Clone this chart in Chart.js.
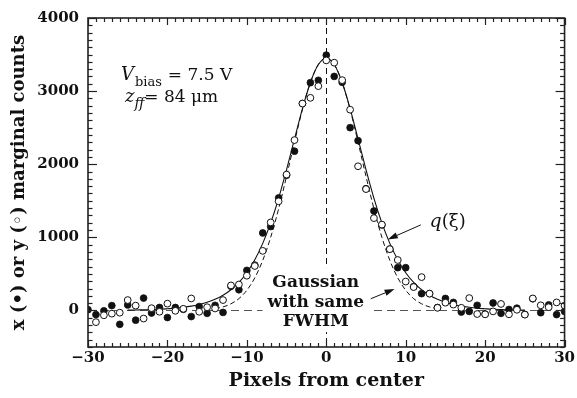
<!DOCTYPE html>
<html><head><meta charset="utf-8">
<script src="https://cdn.jsdelivr.net/npm/chart.js@4.4.1/dist/chart.umd.min.js"></script>
<style>html,body{margin:0;padding:0;background:#fff}canvas{display:block}</style>
</head><body>
<canvas id="c" width="577" height="398"></canvas>
<script>
// ---- data ----
const pixelOffsets = [-30,-29,-28,-27,-26,-25,-24,-23,-22,-21,-20,-19,-18,-17,-16,-15,-14,-13,-12,-11,-10,-9,-8,-7,-6,-5,-4,-3,-2,-1,0,1,2,3,4,5,6,7,8,9,10,11,12,13,14,15,16,17,18,19,20,21,22,23,24,25,26,27,28,29,30];
// x marginal (filled circles)
const xMarginal = [10,-57,-5,66,-190,75,-133,169,-35,40,-97,40,15,-84,53,-40,70,-27,330,283,548,620,1060,1148,1539,1850,2178,2830,3115,3148,3492,3201,3120,2500,2322,1665,1360,1170,840,585,585,325,230,230,40,164,110,-22,-13,70,-50,102,-40,13,31,-55,160,-31,75,-57,-13];
// y marginal (open circles)
const yMarginal = [null,-160,-66,-44,-31,142,66,-111,31,-18,93,-5,22,164,-18,44,27,142,342,355,475,608,815,1204,1493,1858,2330,2830,2908,3068,3420,3389,3150,2746,1972,1660,1263,1174,838,690,395,320,456,230,36,106,80,36,169,-49,-53,-13,89,-53,9,-57,164,70,44,110,66];
// q(xi) curve (solid)
const curveX = [-25,-24,-23,-22,-21,-20,-19,-18,-17,-16,-15,-14,-13,-12,-11,-10,-9,-8,-7,-6,-5,-4,-3,-2,-1,0,1,2,3,4,5,6,7,8,9,10,11,12,13,14,15,16,17,18,19,20,21,22,23,24,25];
const qCurve = [5,6,9,12,16,23,31,43,59,82,111,152,207,283,383,516,692,917,1197,1534,1925,2346,2761,3118,3363,3450,3363,3118,2761,2346,1925,1534,1197,917,692,516,383,283,207,152,111,82,59,43,31,23,16,12,9,6,5];
// Gaussian with same FWHM (dashed)
const gaussX = [-14,-13,-12,-11,-10,-9,-8,-7,-6,-5,-4,-3,-2,-1,0,1,2,3,4,5,6,7,8,9,10,11,12,13,14];
const gaussCurve = [24,48,91,162,276,446,685,1001,1390,1835,2303,2749,3119,3364,3450,3364,3119,2749,2303,1835,1390,1001,685,446,276,162,91,48,24];
const xTickValues = [-30,-20,-10,0,10,20,30];
const yTickValues = [0,1000,2000,3000,4000];

// ---- styling / annotation settings ----
const FONT = "'DejaVu Serif', serif";
const INK = '#111';
const xMinorStep = 1, yMinorStep = 100;
const vbiasPos = {x:-25.85, y:3156};
const zffPos = {x:-25.35, y:2846};
const qLabelPos = {x:13.0, y:1144};
const qArrow = {from:{x:11.9, y:1170}, to:{x:7.74, y:971}};
const gaussLabelPos = {x:-1.32, y:319};
const gaussLines = ['Gaussian','with same','FWHM'];
const gaussArrow = {from:{x:5.6, y:160}, to:{x:8.6, y:293}};

const pts = (xs, ys) => xs.map((v,i)=>({x:v, y:ys[i]}));
const fmt = v => v < 0 ? '\u2212' + Math.abs(v) : String(v);

function arrow(ctx, x1, y1, x2, y2){
  const ang = Math.atan2(y2-y1, x2-x1), L = 10, W = 3.2;
  const bx = x2 - L*Math.cos(ang), by = y2 - L*Math.sin(ang);
  ctx.beginPath(); ctx.moveTo(x1,y1); ctx.lineTo(bx,by); ctx.stroke();
  ctx.beginPath();
  ctx.moveTo(x2,y2);
  ctx.lineTo(bx + W*Math.sin(ang), by - W*Math.cos(ang));
  ctx.lineTo(bx - W*Math.sin(ang), by + W*Math.cos(ang));
  ctx.closePath(); ctx.fill();
}
function put(ctx, s, x, y, font){ ctx.font = font; ctx.fillText(s, x, y); return ctx.measureText(s).width; }

const decor = {
  id:'decor',
  beforeDatasetsDraw(chart){
    const {ctx, chartArea:a, scales:{x,y}} = chart;
    ctx.save();
    ctx.beginPath(); ctx.rect(a.left,a.top,a.right-a.left,a.bottom-a.top); ctx.clip();
    const y0 = Math.round(y.getPixelForValue(0)) + 0.5;
    ctx.strokeStyle = '#555'; ctx.lineWidth = 1; ctx.setLineDash([8,5]);
    ctx.beginPath(); ctx.moveTo(a.left,y0); ctx.lineTo(a.right,y0); ctx.stroke();
    const x0 = Math.round(x.getPixelForValue(0)) + 0.5;
    ctx.strokeStyle = INK; ctx.setLineDash([6,4]);
    ctx.beginPath(); ctx.moveTo(x0,a.top); ctx.lineTo(x0,a.bottom); ctx.stroke();
    ctx.restore();
  },
  afterDatasetsDraw(chart){
    const {ctx, scales:{x,y}} = chart;
    const X = v => x.getPixelForValue(v), Y = v => y.getPixelForValue(v);
    ctx.save();
    ctx.fillStyle = INK; ctx.strokeStyle = INK; ctx.textBaseline = 'alphabetic'; ctx.textAlign = 'left';
    // V_bias line
    let px = X(vbiasPos.x), py = Y(vbiasPos.y);
    px += put(ctx,'V',px,py,'italic 18px '+FONT);
    px += put(ctx,'bias',px+1,py+6,'13px '+FONT) + 3;
    put(ctx,'= 7.5 V',px+4,py,'17px '+FONT);
    // z_ff line
    px = X(zffPos.x); py = Y(zffPos.y);
    px += put(ctx,'z',px,py,'italic 18px '+FONT);
    px += put(ctx,'ff',px,py+6,'italic 14px '+FONT);
    put(ctx,'= 84 \u03BCm',px,py,'17px '+FONT);
    // q(xi) label
    px = X(qLabelPos.x); py = Y(qLabelPos.y);
    px += put(ctx,'q',px,py,'italic 19px '+FONT);
    put(ctx,'(\u03BE)',px,py,'18px '+FONT);
    ctx.lineWidth = 1;
    arrow(ctx, X(qArrow.from.x), Y(qArrow.from.y), X(qArrow.to.x), Y(qArrow.to.y));
    // Gaussian label with white box
    ctx.font = 'bold 17px '+FONT;
    const cx = X(gaussLabelPos.x), by = Y(gaussLabelPos.y), lh = 19.5;
    const w = Math.max(...gaussLines.map(s=>ctx.measureText(s).width));
    ctx.fillStyle = '#fff';
    ctx.fillRect(cx - w/2 - 5, by - 19, w + 10, lh*2 + 25);
    ctx.fillStyle = INK; ctx.textAlign = 'center';
    gaussLines.forEach((s,i)=>ctx.fillText(s, cx, by + i*lh));
    arrow(ctx, X(gaussArrow.from.x), Y(gaussArrow.from.y), X(gaussArrow.to.x), Y(gaussArrow.to.y));
    ctx.restore();
  },
  afterDraw(chart){
    const {ctx, chartArea:a, scales:{x,y}} = chart;
    ctx.save();
    ctx.strokeStyle = '#222'; ctx.setLineDash([]);
    ctx.lineWidth = 1.2;
    const line = (x1,y1,x2,y2)=>{ctx.beginPath();ctx.moveTo(x1,y1);ctx.lineTo(x2,y2);ctx.stroke();};
    for (let v = x.min; v <= x.max + 1e-9; v += xMinorStep){
      const p = Math.round(x.getPixelForValue(v)) + 0.5;
      const L = xTickValues.includes(v) ? 7 : 4;
      line(p, a.bottom, p, a.bottom - L);
      line(p, a.top, p, a.top + L);
    }
    for (let v = y.min; v <= y.max + 1e-9; v += yMinorStep){
      const p = Math.round(y.getPixelForValue(v)) + 0.5;
      const L = yTickValues.includes(v) ? 9 : 4.5;
      line(a.left, p, a.left + L, p);
      line(a.right, p, a.right - L, p);
    }
    ctx.lineWidth = 1.6;
    ctx.strokeRect(a.left, a.top, a.right - a.left, a.bottom - a.top);
    ctx.restore();
  }
};

new Chart(document.getElementById('c'), {
  type:'scatter',
  data:{ datasets:[
    {label:'q(\u03BE)', data:pts(curveX,qCurve), showLine:true, pointRadius:0, borderColor:INK, borderWidth:1.1, cubicInterpolationMode:'monotone', order:3},
    {label:'Gaussian with same FWHM', data:pts(gaussX,gaussCurve), showLine:true, pointRadius:0, borderColor:INK, borderWidth:1, borderDash:[5,3], cubicInterpolationMode:'monotone', order:2},
    {label:'x marginal', data:pts(pixelOffsets,xMarginal), pointRadius:3.4, pointBackgroundColor:INK, pointBorderColor:INK, pointBorderWidth:0.8, order:1},
    {label:'y marginal', data:pts(pixelOffsets,yMarginal), pointRadius:3.4, pointBackgroundColor:'#fff', pointBorderColor:INK, pointBorderWidth:1, order:0}
  ]},
  options:{
    responsive:false, animation:false, devicePixelRatio:1,
    layout:{padding:{left:0, right:12, top:8, bottom:0}},
    plugins:{legend:{display:false}, tooltip:{enabled:false}},
    scales:{
      x:{type:'linear', min:-30, max:30,
        afterBuildTicks:s=>{s.ticks = xTickValues.map(v=>({value:v}));},
        afterFit:s=>{s.height = 51;},
        grid:{display:false, drawTicks:false}, border:{display:false},
        ticks:{color:INK, font:{family:FONT, size:15, weight:'bold'}, padding:2, maxRotation:0, autoSkip:false, callback:fmt},
        title:{display:true, text:'Pixels from center', color:INK, font:{family:FONT, size:19, weight:'bold'}, padding:{top:0, bottom:6}}
      },
      y:{type:'linear', min:-500, max:4000,
        afterBuildTicks:s=>{s.ticks = yTickValues.map(v=>({value:v}));},
        afterFit:s=>{s.width = 88;},
        grid:{display:false, drawTicks:false}, border:{display:false},
        ticks:{color:INK, font:{family:FONT, size:15, weight:'bold'}, padding:9, autoSkip:false, callback:fmt},
        title:{display:true, text:'x (\u2022) or y (\u25E6) marginal counts', color:INK, font:{family:FONT, size:18, weight:'bold'}, padding:{top:9, bottom:0}}
      }
    }
  },
  plugins:[decor]
});
</script>
</body></html>
